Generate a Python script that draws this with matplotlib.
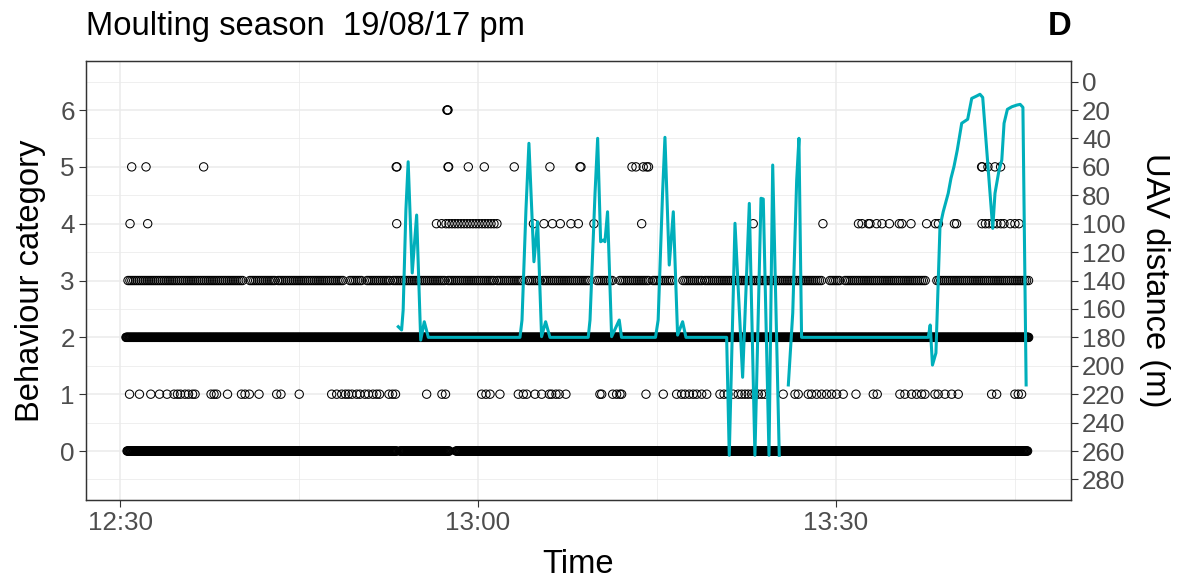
import numpy as np
import matplotlib
matplotlib.use("Agg")
import matplotlib.pyplot as plt
from matplotlib.ticker import FixedLocator

plt.rcParams['font.family'] = ['Liberation Sans', 'DejaVu Sans']

# ---------------- data (time in minutes after 12:00) ----------------
# dense observation runs (start, end) per behaviour category
cat0_runs = [(30.59, 53.21), (53.46, 57.65), (58.16, 106.09)]
cat2_runs = [(30.50, 106.17)]
cat3_runs = [(30.67, 40.31), (40.89, 42.99), (43.24, 48.69), (49.27, 50.36),
             (50.70, 52.63), (52.88, 57.24), (57.49, 61.43), (61.59, 63.77),
             (64.19, 65.20), (65.45, 69.39), (69.97, 71.31), (71.90, 74.41),
             (74.67, 76.34), (77.18, 78.86), (79.02, 88.91), (89.50, 90.34),
             (90.76, 97.63), (98.46, 106.26)]

cat1_times = [30.80, 31.63, 32.58, 33.31, 33.94, 34.53, 34.82, 35.07, 35.45, 35.74,
              36.08, 36.29, 37.63, 37.88, 38.09, 39.01, 40.18, 40.48, 40.84, 41.65,
              43.13, 43.49, 45.02, 47.74, 48.16, 48.58, 48.90, 49.15, 49.44, 49.84,
              50.11, 50.53, 50.82, 51.20, 51.51, 51.75, 52.54, 52.84, 53.09, 55.70,
              56.98, 57.28, 60.31, 60.67, 61.01, 61.84, 63.38, 63.80, 64.08, 64.78,
              65.34, 65.98, 66.18, 66.54, 66.81, 67.37, 70.22, 70.37, 71.29, 71.62,
              71.90, 72.04, 74.08, 75.53, 76.65, 77.07, 77.35, 77.71, 78.04, 78.33,
              78.75, 79.17, 80.28, 80.62, 80.95, 81.39, 81.81, 82.10, 82.38, 82.65,
              82.94, 83.21, 83.49, 83.77, 84.05, 85.58, 86.57, 86.84, 87.68, 87.96,
              88.38, 88.80, 89.22, 89.64, 90.06, 90.61, 91.68, 93.13, 93.46, 95.36,
              95.78, 96.34, 96.76, 97.18, 97.46, 98.30, 98.57, 99.14, 99.70, 100.25,
              103.05, 103.47, 105.00, 105.28, 105.56]

cat4_times = [30.84, 32.32, 53.19, 56.52, 56.96, 57.32, 57.57, 57.82, 58.07, 58.32,
              58.58, 58.83, 59.08, 59.33, 59.58, 59.83, 60.08, 60.34, 60.59, 60.84,
              61.09, 61.34, 61.59, 64.65, 65.53, 66.24, 66.90, 67.79, 68.41, 69.72,
              73.72, 83.07, 88.91, 91.89, 92.18, 92.72, 92.85, 93.41, 93.86, 94.48,
              95.31, 95.53, 96.29, 97.60, 98.34, 98.59, 99.93, 100.11, 102.24, 102.53,
              102.82, 103.16, 103.49, 103.83, 104.08, 104.62, 105.00, 105.34]

cat5_times = [30.98, 32.18, 37.01, 53.15, 53.21, 57.49, 57.54, 59.19, 60.53, 63.04,
              66.03, 68.55, 68.63, 72.91, 73.24, 73.85, 74.14, 74.29, 102.21, 102.26,
              102.74, 103.33, 103.80]

cat6_times = [57.40, 57.44, 57.49]

uav_time = [53.32, 53.60, 53.73, 53.96, 54.15, 54.49, 54.86, 55.20, 55.50, 55.84,
            63.52, 63.69, 64.02, 64.27, 64.69, 65.00, 65.33, 65.67, 66.03,
            69.24, 69.39, 69.81, 70.03, 70.28, 70.50, 70.64, 70.86, 71.20, 71.84, 72.03,
            74.88, 75.10, 75.47, 75.67, 76.03, 76.37, 76.73, 77.15, 77.43,
            80.84, 81.06, 81.54, 82.18, 82.74, 83.21, 83.72, 83.91, 84.39, 84.70, 85.25,
            85.60,
            86.01, 86.38, 86.71, 86.90, 87.12,
            97.74, 97.90, 98.09, 98.38, 98.72, 98.99, 99.41, 99.64, 99.89, 100.17,
            100.54, 101.04, 101.38, 101.80, 102.07, 102.30, 103.14, 103.33, 103.67,
            103.90, 104.09, 104.37, 104.74, 105.16, 105.44, 105.67, 105.94]
uav_dist = [172.5, 174.8, 160.8, 90.4, 56.4, 134.7, 93.9, 181.9, 169.0, 180.0,
            180.0, 167.8, 90.4, 43.4, 126.8, 98.6, 179.5, 169.0, 180.0,
            180.0, 167.8, 78.6, 39.9, 112.7, 111.5, 112.7, 91.6, 179.5, 167.8, 180.0,
            180.0, 167.8, 78.6, 39.2, 129.1, 91.6, 178.4, 169.0, 180.0,
            180.0, 263.0, 99.7, 208.1, 85.7, 263.0, 82.1, 82.6, 263.0, 58.7, 263.0,
            np.nan,
            213.5, 162.9, 69.3, 39.9, 180.0,
            180.0, 171.3, 199.5, 191.0, 102.1, 91.6, 78.6, 68.1, 59.9, 48.1,
            29.3, 26.5, 11.8, 10.1, 8.9, 11.1, 103.3, 78.6, 62.2,
            55.2, 29.3, 19.5, 17.7, 16.5, 16.0, 18.1, 213.5]

x_major = [30, 60, 90]
x_major_labels = ['12:30', '13:00', '13:30']
x_minor = [45, 75, 105]


def expand(runs, step):
    return np.concatenate([np.arange(a, b + 1e-9, step) for a, b in runs])


# ---------------- figure ----------------
W, H = 1184, 585
fig = plt.figure(figsize=(W / 100, H / 100), dpi=100)
L, R, T, B = 86, 1071, 61, 500
ax = fig.add_axes([L / W, (H - B) / H, (R - L) / W, (B - T) / H])

grid_c = '#EBEBEB'
dark = '#333333'
tick_c = '#4D4D4D'

pts = [(expand(cat0_runs, 0.05), 0), (cat1_times, 1), (expand(cat2_runs, 0.05), 2),
       (expand(cat3_runs, 0.16), 3), (cat4_times, 4), (cat5_times, 5), (cat6_times, 6)]
for tt, cat in pts:
    tt = np.asarray(tt)
    ax.scatter(tt, np.full(len(tt), cat), s=36, facecolors='none',
               edgecolors='black', linewidths=0.75, zorder=3)

ylo, yhi = -0.862, 6.863
ax.set_ylim(ylo, yhi)
ax.set_xlim(27.15, 109.7)

ax.xaxis.set_major_locator(FixedLocator(x_major))
ax.xaxis.set_minor_locator(FixedLocator(x_minor))
ax.set_xticklabels(x_major_labels)
ax.yaxis.set_major_locator(FixedLocator(range(0, 7)))
ax.yaxis.set_minor_locator(FixedLocator(np.arange(-0.5, 7, 1.0)))

ax.grid(True, which='major', color=grid_c, linewidth=1.1)
ax.grid(True, which='minor', color=grid_c, linewidth=0.55)
ax.set_axisbelow(True)

for s in ax.spines.values():
    s.set_color(dark)
    s.set_linewidth(0.9)

ax.tick_params(axis='both', which='major', direction='out', length=5, width=0.8,
               color=dark, labelcolor=tick_c, labelsize=18.7, pad=3)
ax.tick_params(axis='both', which='minor', length=0)

ax.set_xlabel('Time', fontsize=23.6, labelpad=10)
ax.set_ylabel('Behaviour category', fontsize=23.6, labelpad=10)

# secondary axis: UAV distance
ax2 = ax.twinx()
ax2.set_ylim(260 - 40 * ylo, 260 - 40 * yhi)
ax2.plot(uav_time, uav_dist, color='#00AFBB', linewidth=2.2, zorder=4)
ax2.yaxis.set_major_locator(FixedLocator(range(0, 281, 20)))
ax2.tick_params(axis='y', which='major', direction='out', length=5, width=0.8,
                color=dark, labelcolor=tick_c, labelsize=18.7, pad=3)
ax2.set_ylabel('UAV distance (m)', fontsize=23.6, rotation=270, labelpad=32)
for s in ax2.spines.values():
    s.set_color(dark)
    s.set_linewidth(0.9)

ax.set_title('Moulting season  19/08/17 pm', loc='left', fontsize=23.6, pad=19)
ax.set_title('D', loc='right', fontsize=23.6, fontweight='bold', pad=19)

fig.savefig('out.png', dpi=100)
